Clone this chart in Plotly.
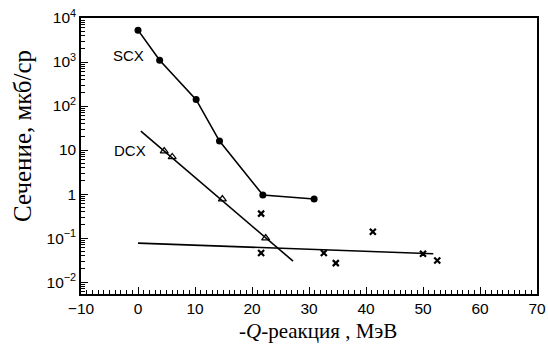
import plotly.graph_objects as go

# Single charge exchange (SCX) cross sections
scx_q = [0, 3.8, 10.2, 14.3, 21.9, 30.9]
scx_sigma = [5300, 1100, 140, 16, 0.95, 0.77]

# Double charge exchange (DCX) cross sections and trend line
dcx_q = [4.6, 6.0, 14.8, 22.4]
dcx_sigma = [9.5, 7.0, 0.77, 0.10]
dcx_fit_q = [0.5, 27.2]
dcx_fit_sigma = [27, 0.030]

# Other reaction channel points and flat trend line
x_q = [21.6, 21.6, 32.6, 34.7, 41.2, 50.0, 52.5]
x_sigma = [0.36, 0.046, 0.046, 0.027, 0.14, 0.044, 0.031]
flat_fit_q = [0, 51.8]
flat_fit_sigma = [0.077, 0.044]

# Axis tick definitions
x_ticks = [-10, 0, 10, 20, 30, 40, 50, 60, 70]
y_ticks = [1e-2, 1e-1, 1, 10, 1e2, 1e3, 1e4]
y_ticktext = ["10<sup>−2</sup>", "10<sup>−1</sup>", "1", "10",
              "10<sup>2</sup>", "10<sup>3</sup>", "10<sup>4</sup>"]
y_minor = [m * 10.0 ** e for e in range(-3, 4) for m in range(2, 10)]

line_style = dict(color="black", width=1.6)

fig = go.Figure()
fig.add_trace(go.Scatter(
    x=scx_q, y=scx_sigma, mode="lines+markers", line=line_style,
    marker=dict(symbol="circle", size=7, color="black"), showlegend=False))
fig.add_trace(go.Scatter(
    x=dcx_fit_q, y=dcx_fit_sigma, mode="lines", line=line_style, showlegend=False))
fig.add_trace(go.Scatter(
    x=dcx_q, y=dcx_sigma, mode="markers",
    marker=dict(symbol="triangle-up-open", size=7, color="black",
                line=dict(width=1.2, color="black")), showlegend=False))
fig.add_trace(go.Scatter(
    x=flat_fit_q, y=flat_fit_sigma, mode="lines", line=line_style, showlegend=False))
fig.add_trace(go.Scatter(
    x=x_q, y=x_sigma, mode="markers",
    marker=dict(symbol="x-thin", size=6, color="black",
                line=dict(width=2.2, color="black")), showlegend=False))

label_font = dict(family="Liberation Sans, Arial, sans-serif", size=15, color="black")
fig.add_annotation(x=-1.75, y=3.14, xref="x", yref="y", text="SCX", showarrow=False,
                   font=label_font, xanchor="center", yanchor="middle")
fig.add_annotation(x=-1.4, y=1.0, xref="x", yref="y", text="DCX", showarrow=False,
                   font=label_font, xanchor="center", yanchor="middle")

tick_font = dict(family="Liberation Sans, Arial, sans-serif", size=15.5, color="black")
serif = "Liberation Serif, Times New Roman, serif"

# Axis titles placed as paper-anchored annotations (positions given in pixels)
fig.add_annotation(x=318, y=331, xref="paper", yref="paper", text="-<i>Q</i>-реакция , МэВ",
                   showarrow=False, font=dict(family=serif, size=21, color="black"),
                   xanchor="center", yanchor="middle")
fig.add_annotation(x=22, y=136, xref="paper", yref="paper", text="Сечение, мкб/ср",
                   showarrow=False, textangle=-90,
                   font=dict(family=serif, size=25, color="black"),
                   xanchor="center", yanchor="middle")

fig.update_xaxes(
    range=[-10, 70], tickvals=x_ticks, ticks="inside", ticklen=7, tickwidth=1.2,
    tickcolor="black", showline=True, linecolor="black", linewidth=1.5, mirror=True,
    showgrid=False, zeroline=False, tickfont=tick_font, automargin=False,
    minor=dict(dtick=1, ticks="inside", ticklen=4, tickcolor="black", tickwidth=1, showgrid=False))
fig.update_yaxes(
    type="log", range=[-2.27, 4.0], tickvals=y_ticks, ticktext=y_ticktext,
    ticks="inside", ticklen=7, tickwidth=1.2, tickcolor="black",
    showline=True, linecolor="black", linewidth=1.5, mirror=True,
    showgrid=False, zeroline=False, tickfont=tick_font, automargin=False,
    minor=dict(tickvals=y_minor, ticks="inside", ticklen=4, tickcolor="black", tickwidth=1, showgrid=False))

W, H = 548, 347
L, R, T, B = 81, 11, 18, 53
fig.update_layout(
    width=W, height=H,
    margin=dict(l=L, r=R, t=T, b=B),
    paper_bgcolor="white", plot_bgcolor="white",
)

# Convert the pixel positions of the paper-anchored titles into paper fractions
for ann in fig.layout.annotations:
    if ann.xref == "paper":
        ann.x = (ann.x - L) / (W - L - R)
        ann.y = (H - B - ann.y) / (H - T - B)

fig.write_html("out.html")
